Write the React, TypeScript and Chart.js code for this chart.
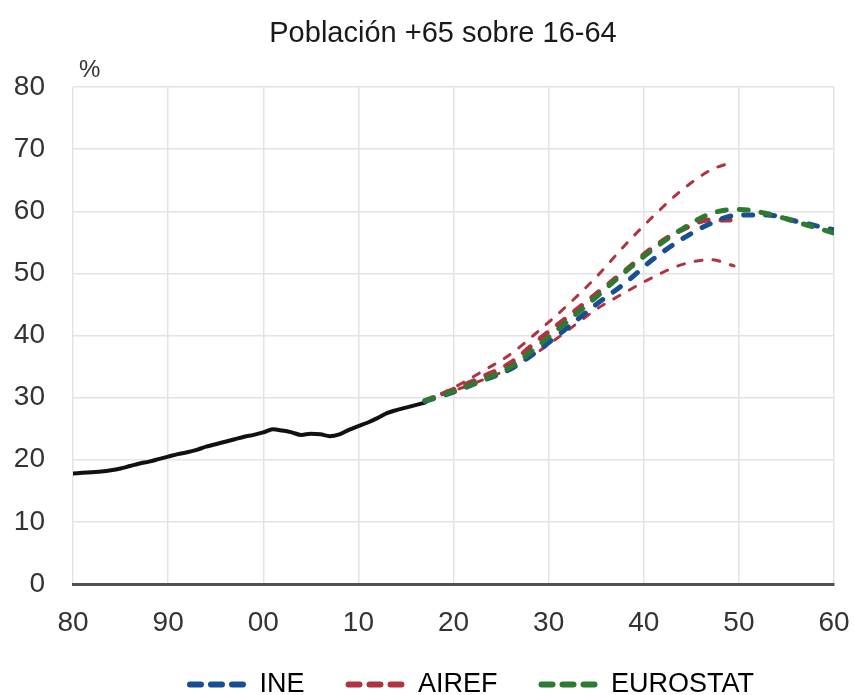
import React, { useEffect, useRef } from 'react';
import { Chart, registerables } from 'chart.js';

Chart.register(...registerables);

// Serie histórica
const histYears = [
  1980, 1981, 1982, 1983, 1984, 1985, 1986, 1987, 1988, 1989,
  1990, 1991, 1992, 1993, 1994, 1995, 1996, 1997, 1998, 1999,
  2000, 2001, 2002, 2003, 2004, 2005, 2006, 2007, 2008, 2009,
  2010, 2011, 2012, 2013, 2014, 2015, 2016, 2017,
];
const histValues = [
  17.8, 17.9, 18.0, 18.1, 18.3, 18.6, 19.0, 19.4, 19.7, 20.1,
  20.5, 20.9, 21.2, 21.6, 22.1, 22.5, 22.9, 23.3, 23.7, 24.0,
  24.4, 24.9, 24.7, 24.4, 24.0, 24.2, 24.1, 23.8, 24.1, 24.8,
  25.4, 26.0, 26.7, 27.5, 28.0, 28.4, 28.8, 29.2,
];

// Proyecciones
const ineYears = [2017, 2020, 2023, 2026, 2029, 2032, 2035, 2038, 2041, 2044, 2047, 2050, 2053, 2056, 2060];
const ineValues = [29.4, 30.9, 32.7, 34.6, 37.7, 41.3, 45.0, 48.4, 52.3, 55.5, 58.0, 59.4, 59.4, 58.4, 57.0];

const eurostatYears = [2017, 2020, 2023, 2026, 2029, 2032, 2035, 2038, 2041, 2044, 2047, 2050, 2053, 2056, 2060];
const eurostatValues = [29.5, 31.0, 32.8, 34.9, 38.5, 42.3, 46.2, 50.2, 53.9, 57.1, 59.6, 60.3, 59.6, 58.3, 56.5];

const airefYears = [2017, 2020, 2023, 2026, 2029, 2032, 2035, 2038, 2041, 2044, 2047, 2049.5];
const airefValues = [29.5, 31.3, 33.3, 35.6, 39.4, 43.0, 46.7, 50.4, 54.2, 57.0, 58.6, 58.6];
const airefHighValues = [29.5, 31.6, 34.2, 37.0, 40.8, 44.9, 49.4, 54.5, 59.2, 63.4, 66.6, 68.0];
const airefLowValues = [29.5, 31.1, 32.8, 34.8, 37.5, 40.8, 44.2, 46.9, 49.4, 51.4, 52.2, 51.2];

const xTicks = [1980, 1990, 2000, 2010, 2020, 2030, 2040, 2050, 2060];
const yTicks = [0, 10, 20, 30, 40, 50, 60, 70, 80];

const legendNames = ['INE', 'AIREF', 'EUROSTAT'];

const BLUE = '#184f93';
const RED = '#b0343f';
const GREEN = '#2e7a30';
const FONT = '"Liberation Sans", Arial, Helvetica, sans-serif';

const toPoints = (xs: number[], ys: number[]) => xs.map((x, i) => ({ x, y: ys[i] }));

const percentLabel = {
  id: 'percentLabel',
  afterDraw(chart: any) {
    const { ctx, chartArea } = chart;
    ctx.save();
    ctx.font = `24px ${FONT}`;
    ctx.fillStyle = '#333';
    ctx.textAlign = 'left';
    ctx.textBaseline = 'alphabetic';
    ctx.fillText('%', chartArea.left + 6, chartArea.top - 10);
    ctx.restore();
  },
};

// retoques de posición: título y leyenda van algo a la derecha en el original,
// y la etiqueta del eje x no debe quedar recortada
const layoutTweaks = {
  id: 'layoutTweaks',
  afterLayout(chart: any) {
    const l = chart.legend;
    if (l) {
      l.left += 55;
      l.right += 55;
      l.top += 13;
      l.bottom += 13;
    }
    const t = chart.titleBlock;
    if (t) {
      t.left += 26;
      t.right += 26;
    }
    const x = chart.scales.x;
    if (x) x.bottom += 60;
  },
};

export default function App() {
  const canvasRef = useRef<HTMLCanvasElement | null>(null);

  useEffect(() => {
    document.body.style.margin = '0';
    const canvas = canvasRef.current;
    if (!canvas) return;

    const thick = { borderWidth: 5, borderDash: [9, 13], borderCapStyle: 'round' as const };
    const thin = { borderWidth: 3, borderDash: [7, 11], borderCapStyle: 'round' as const };

    const chart = new Chart(canvas, {
      type: 'line',
      data: {
        datasets: [
          { label: 'EUROSTAT', data: toPoints(eurostatYears, eurostatValues), borderColor: GREEN, ...thick },
          { label: 'INE', data: toPoints(ineYears, ineValues), borderColor: BLUE, ...thick },
          { label: 'AIREF', data: toPoints(airefYears, airefValues), borderColor: RED, ...thick },
          { label: 'AIREF alto', data: toPoints(airefYears, airefHighValues), borderColor: RED, ...thin },
          { label: 'AIREF bajo', data: toPoints(airefYears, airefLowValues), borderColor: RED, ...thin },
          {
            label: 'Histórico',
            data: toPoints(histYears, histValues),
            borderColor: '#111',
            borderWidth: 4,
            borderCapStyle: 'round',
            tension: 0.3,
          },
        ],
      },
      options: {
        animation: false,
        responsive: false,
        maintainAspectRatio: false,
        layout: { padding: { left: 0, right: 21, top: 0, bottom: 0 } },
        elements: {
          point: { radius: 0 },
          line: { cubicInterpolationMode: 'monotone', fill: false },
        },
        scales: {
          x: {
            type: 'linear',
            min: 1980,
            max: 2060,
            afterBuildTicks: (scale: any) => {
              scale.ticks = xTicks.map((v) => ({ value: v }));
            },
            afterFit: (scale: any) => {
              scale.height = 30;
              scale.paddingLeft = 0;
              scale.paddingRight = 0;
            },
            ticks: {
              color: '#333',
              font: { family: FONT, size: 28 },
              padding: 22,
              maxRotation: 0,
              callback: (v: any) => String(Number(v) % 100).padStart(2, '0'),
            },
            grid: { color: '#e3e3e3', lineWidth: 1.5, drawTicks: false },
            border: { display: true, color: '#505050', width: 3 },
          },
          y: {
            min: 0,
            max: 80,
            afterBuildTicks: (scale: any) => {
              scale.ticks = yTicks.map((v) => ({ value: v }));
            },
            afterFit: (scale: any) => {
              scale.width = 73;
            },
            ticks: {
              color: '#333',
              font: { family: FONT, size: 28 },
              padding: 28,
            },
            grid: { color: '#e3e3e3', lineWidth: 1.5, drawTicks: false },
            border: { display: false },
          },
        },
        plugins: {
          title: {
            display: true,
            text: 'Población +65 sobre 16-64',
            color: '#1a1a1a',
            font: { family: FONT, size: 29, weight: 'normal' },
            padding: { top: 17, bottom: 35.2 },
          },
          legend: {
            position: 'bottom',
            labels: {
              color: '#333',
              font: { family: FONT, size: 27 },
              usePointStyle: true,
              pointStyle: 'line',
              pointStyleWidth: 56,
              padding: 44,
              generateLabels: () =>
                legendNames.map((name, i) => ({
                  text: name,
                  strokeStyle: [BLUE, RED, GREEN][i],
                  fillStyle: [BLUE, RED, GREEN][i],
                  lineWidth: 6,
                  lineDash: [11, 10],
                  lineCap: 'round',
                  pointStyle: 'line',
                  hidden: false,
                  datasetIndex: i,
                })),
            },
          },
          tooltip: { enabled: false },
        },
      },
      plugins: [percentLabel, layoutTweaks],
    });

    return () => {
      chart.destroy();
    };
  }, []);

  return (
    <div style={{ width: 855, height: 695, background: '#fff' }}>
      <canvas ref={canvasRef} width={855} height={695} style={{ display: 'block' }} />
    </div>
  );
}
